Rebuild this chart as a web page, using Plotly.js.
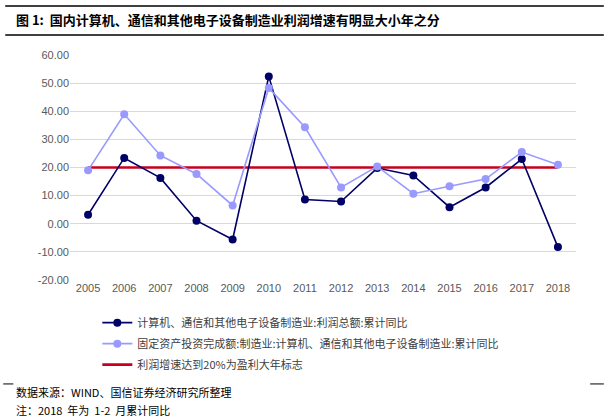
<!DOCTYPE html>
<html>
<head>
<meta charset="utf-8">
<script src="https://cdn.plot.ly/plotly-3.0.1.min.js"></script>
<style>html,body{margin:0;padding:0;background:#fff;}#chart{width:609px;height:420px;}</style>
</head>
<body>
<div id="chart"></div>
<script>
const years = ['2005','2006','2007','2008','2009','2010','2011','2012','2013','2014','2015','2016','2017','2018'];
const profitGrowth = [3.2, 23.4, 16.3, 1.1, -5.6, 52.4, 8.6, 7.9, 19.8, 17.2, 5.9, 12.9, 23.0, -8.3];
const fixedInvestGrowth = [19.0, 38.9, 24.3, 17.7, 6.5, 48.3, 34.3, 12.9, 20.4, 10.7, 13.3, 15.9, 25.5, 21.0];
const threshold = [20, 20, 20, 20, 20, 20, 20, 20, 20, 20, 20, 20, 20, 20];
const yTicks = [-20, -10, 0, 10, 20, 30, 40, 50, 60];
const yTickText = ['-20.00', '-10.00', '0.00', '10.00', '20.00', '30.00', '40.00', '50.00', '60.00'];
const seriesNames = [
  '计算机、通信和其他电子设备制造业:利润总额:累计同比',
  '固定资产投资完成额:制造业:计算机、通信和其他电子设备制造业:累计同比',
  '利润增速达到20%为盈利大年标志'
];
const titleText = '<b>图 1:  国内计算机、通信和其他电子设备制造业利润增速有明显大小年之分</b>';
const sourceText = '数据来源：WIND、国信证券经济研究所整理';
const noteText = '注：2018  年为  1-2  月累计同比';

const font = '"Noto Sans CJK SC", "Liberation Sans", Arial, sans-serif';

const traces = [
  {x: years, y: threshold, name: seriesNames[2], type: 'scatter', mode: 'lines',
   line: {color: '#c8001e', width: 2.6}, legendrank: 3, legendgroup: 'c'},
  {x: years, y: profitGrowth, name: seriesNames[0], type: 'scatter', mode: 'lines+markers',
   line: {color: '#000066', width: 1.6}, marker: {color: '#000066', size: 8}, legendrank: 1, legendgroup: 'a'},
  {x: years, y: fixedInvestGrowth, name: seriesNames[1], type: 'scatter', mode: 'lines+markers',
   line: {color: '#9999ff', width: 1.6}, marker: {color: '#9999ff', size: 8}, legendrank: 2, legendgroup: 'b'}
];

const layout = {
  width: 609, height: 420,
  margin: {l: 70, r: 33, t: 55, b: 140},
  paper_bgcolor: '#ffffff', plot_bgcolor: '#ffffff',
  font: {family: font, size: 11, color: '#595959'},
  showlegend: true,
  legend: {x: 0.054, y: -0.125, xanchor: 'left', yanchor: 'top', orientation: 'v',
           font: {family: font, size: 11, color: '#404040'}, tracegroupgap: 2,
           bgcolor: 'rgba(0,0,0,0)', itemwidth: 30},
  xaxis: {type: 'category', range: [-0.5, 13.5], showgrid: false, zeroline: false,
          showline: false, ticks: '', tickfont: {family: '"Liberation Sans", Arial, sans-serif', size: 11, color: '#595959'}},
  yaxis: {range: [-20, 60], tickvals: yTicks, ticktext: yTickText, showgrid: true,
          gridcolor: '#d9d9d9', gridwidth: 1, zeroline: false, showline: false, ticks: '',
          ticklen: 0, tickfont: {family: '"Liberation Sans", Arial, sans-serif', size: 11, color: '#595959'}},
  annotations: [
    {xref: 'paper', yref: 'paper', x: -0.11, y: 1.156, xanchor: 'left', yanchor: 'middle',
     text: titleText, showarrow: false, font: {family: font, size: 13, color: '#000000'}},
    {xref: 'paper', yref: 'paper', x: -0.11, y: -0.498, xanchor: 'left', yanchor: 'middle',
     text: sourceText, showarrow: false, font: {family: font, size: 11, color: '#000000'}},
    {xref: 'paper', yref: 'paper', x: -0.11, y: -0.578, xanchor: 'left', yanchor: 'middle',
     text: noteText, showarrow: false, font: {family: font, size: 11, color: '#000000'}}
  ],
  shapes: [
    {type: 'line', xref: 'paper', yref: 'paper', x0: -0.128, x1: 1.055, y0: 1.218, y1: 1.218,
     line: {color: '#000000', width: 1.5}},
    {type: 'line', xref: 'paper', yref: 'paper', x0: -0.128, x1: 1.055, y0: 1.089, y1: 1.089,
     line: {color: '#000000', width: 1.5}},
    {type: 'line', xref: 'paper', yref: 'paper', x0: -0.132, x1: -0.112, y0: -0.462, y1: -0.462,
     line: {color: '#000000', width: 1}},
    {type: 'line', xref: 'paper', yref: 'paper', x0: 1.028, x1: 1.055, y0: -0.462, y1: -0.462,
     line: {color: '#000000', width: 1}}
  ]
};

Plotly.newPlot('chart', traces, layout, {displayModeBar: false, staticPlot: true});
</script>
</body>
</html>
